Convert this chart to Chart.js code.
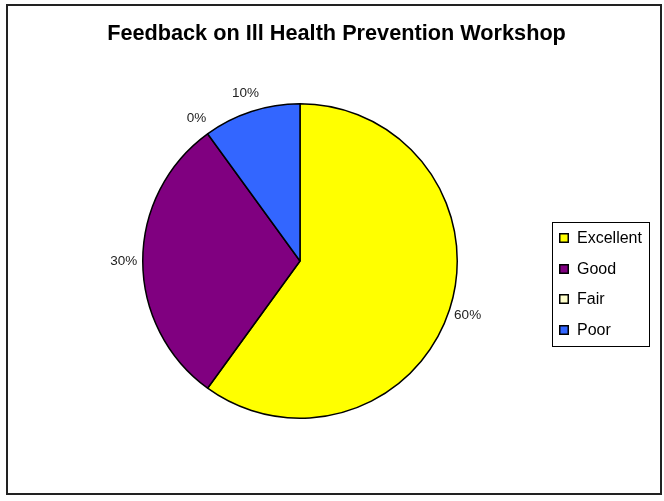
<!DOCTYPE html>
<html>
<head>
<meta charset="utf-8">
<script src="https://cdn.jsdelivr.net/npm/chart.js@4.4.1/dist/chart.umd.min.js"></script>
<style>
  html, body { margin: 0; padding: 0; background: #fff; }
  #wrap { position: relative; width: 664px; height: 501px; }
  #frame {
    position: absolute; left: 6px; top: 4px; width: 652px; height: 487px;
    border: 2px solid #222; pointer-events: none;
  }
  canvas { position: absolute; left: 0; top: 0; }
</style>
</head>
<body>
<div id="wrap">
  <canvas id="pie" width="664" height="501"></canvas>
  <div id="frame"></div>
</div>
<script>
const titleText = 'Feedback on Ill Health Prevention Workshop';
const categories = ['Excellent', 'Good', 'Fair', 'Poor'];
const percentages = [60, 30, 0, 10];
const sliceColors = ['#FFFF00', '#800080', '#FFFFCC', '#3366FF'];

const fontFamily = '"Liberation Sans", Arial, sans-serif';

// title, percent labels and the boxed legend are drawn on top of the pie
const decorPlugin = {
    id: 'decor',
    afterDraw(chart) {
        const ctx = chart.ctx;
        ctx.save();

        // title
        ctx.fillStyle = '#000';
        ctx.font = 'bold 21.7px ' + fontFamily;
        ctx.textAlign = 'center';
        ctx.textBaseline = 'middle';
        ctx.fillText(titleText, 336.5, 34);

        // percent labels outside each slice
        const meta = chart.getDatasetMeta(0);
        ctx.font = '13.5px ' + fontFamily;
        ctx.fillStyle = '#222';
        meta.data.forEach((arc, i) => {
            const p = arc.getProps(['x', 'y', 'startAngle', 'endAngle', 'outerRadius'], true);
            const mid = (p.startAngle + p.endAngle) / 2;
            const r = p.outerRadius + 19;
            ctx.fillText(percentages[i] + '%', p.x + Math.cos(mid) * r, p.y + Math.sin(mid) * r);
        });

        // legend
        const lx = 552, ly = 222, lw = 97, lh = 124;
        ctx.strokeStyle = '#000';
        ctx.lineWidth = 1;
        ctx.strokeRect(lx + 0.5, ly + 0.5, lw, lh);
        ctx.font = '16px ' + fontFamily;
        ctx.textAlign = 'left';
        categories.forEach((name, i) => {
            const cy = 238 + i * 30.5;
            const top = Math.round(cy - 5);
            ctx.fillStyle = sliceColors[i];
            ctx.fillRect(559, top, 10, 10);
            ctx.strokeStyle = '#000';
            ctx.lineWidth = 1.5;
            ctx.strokeRect(559.75, top + 0.75, 8.5, 8.5);
            ctx.fillStyle = '#000';
            ctx.fillText(name, 577, cy + 1);
        });

        ctx.restore();
    }
};

new Chart(document.getElementById('pie'), {
    type: 'pie',
    data: {
        labels: categories,
        datasets: [{
            data: percentages,
            backgroundColor: sliceColors,
            borderColor: '#000',
            borderWidth: 1.5,
            hoverOffset: 0
        }]
    },
    options: {
        responsive: false,
        animation: false,
        layout: {
            padding: { top: 103, left: 142, right: 206, bottom: 82 }
        },
        plugins: {
            legend: { display: false },
            title: { display: false },
            tooltip: { enabled: false }
        }
    },
    plugins: [decorPlugin]
});
</script>
</body>
</html>
